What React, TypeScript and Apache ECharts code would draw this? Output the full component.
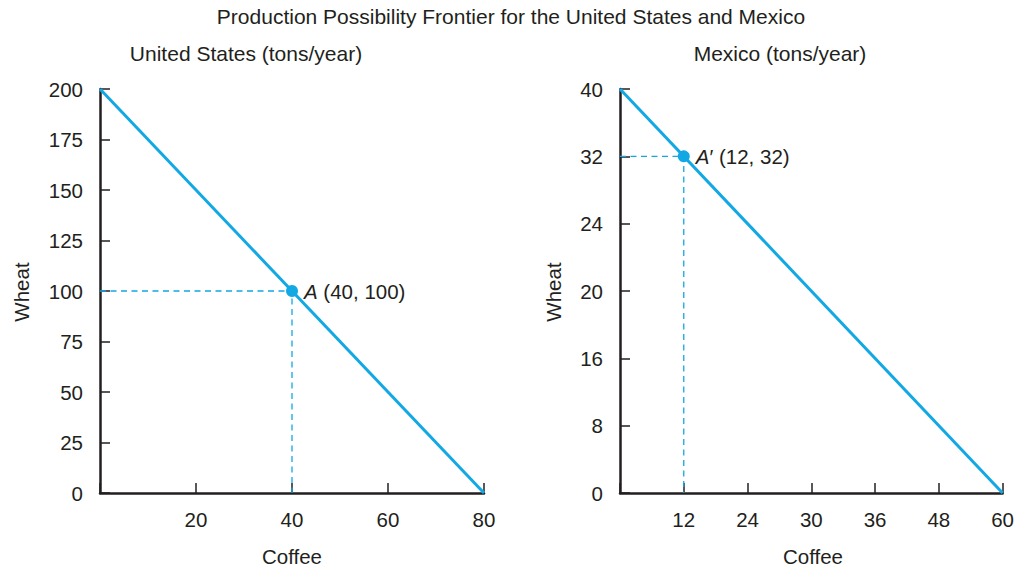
import React, { useEffect, useRef } from "react";
import * as echarts from "echarts";

// ---- Data ----
const mainTitle = "Production Possibility Frontier for the United States and Mexico";
const usTitle = "United States (tons/year)";
const mexTitle = "Mexico (tons/year)";
const xName = "Coffee";
const yName = "Wheat";

// United States (linear axes)
const usCoffeeMax = 80;
const usCoffeeStep = 20;
const usWheatMax = 200;
const usWheatStep = 25;
const usFrontier = [
  [0, 200],
  [80, 0],
];
const usPointA = [40, 100];
const usPointLabel = "(40, 100)";

// Mexico (tick labels are equally spaced in the original figure)
const mexCoffeeTicks = [0, 12, 24, 30, 36, 48, 60];
const mexWheatTicks = [0, 8, 16, 20, 24, 32, 40];
const mexFrontier = [
  [0, 40],
  [60, 0],
];
const mexPointA = [12, 32];
const mexPointLabel = "(12, 32)";

const BLUE = "#12a8e4";
const INK = "#231f20";
const FONT = "'Liberation Sans', Arial, Helvetica, sans-serif";

const toMex = (p: number[]) => [mexCoffeeTicks.indexOf(p[0]), mexWheatTicks.indexOf(p[1])];

export default function App() {
  const ref = useRef<HTMLDivElement>(null);

  useEffect(() => {
    document.body.style.margin = "0";
    if (!ref.current) return;
    const chart = echarts.init(ref.current, undefined, { renderer: "svg" });

    const axisCommon = {
      axisLine: { show: true, onZero: false, lineStyle: { color: INK, width: 2.5 } },
      axisTick: { show: true, inside: true, length: 10, lineStyle: { color: INK, width: 1.5 } },
      splitLine: { show: false },
    };
    const labelStyle = { color: INK, fontSize: 20.5, fontFamily: FONT };

    const usGuide = [
      [0, usPointA[1]],
      [usPointA[0], usPointA[1]],
      [usPointA[0], 0],
    ];
    const mexA = toMex(mexPointA);
    const mexGuide = [
      [0, mexA[1]],
      [mexA[0], mexA[1]],
      [mexA[0], 0],
    ];

    const richBase = { fontSize: 20.5, fontFamily: FONT, color: INK, textBorderWidth: 0, opacity: 1 };
    const pointLabel = (prime: boolean, txt: string) => ({
      show: true,
      position: "right" as const,
      distance: 6,
      formatter: prime ? `{i|A}{p|\u2032} {t|${txt}}` : `{i|A} {t|${txt}}`,
      color: INK,
      opacity: 1,
      textBorderWidth: 0,
      fontSize: 20.5,
      fontFamily: FONT,
      rich: {
        i: { ...richBase, fontStyle: "italic" },
        p: { ...richBase },
        t: { ...richBase },
      },
    });

    chart.setOption({
      animation: false,
      backgroundColor: "#ffffff",
      grid: [
        { left: 100, top: 89, width: 384, height: 404, containLabel: false },
        { left: 620, top: 89, width: 385, height: 404, containLabel: false },
      ],
      xAxis: [
        {
          type: "value",
          gridIndex: 0,
          min: 0,
          max: usCoffeeMax,
          interval: usCoffeeStep,
          ...axisCommon,
          axisLabel: {
            ...labelStyle,
            margin: 16,
            formatter: (v: number) => (v === 0 ? "" : String(v)),
          },
        },
        {
          type: "value",
          gridIndex: 1,
          min: 0,
          max: mexCoffeeTicks.length - 1,
          interval: 1,
          ...axisCommon,
          axisLabel: {
            ...labelStyle,
            margin: 16,
            formatter: (v: number) => (v === 0 ? "" : String(mexCoffeeTicks[v])),
          },
        },
      ],
      yAxis: [
        {
          type: "value",
          gridIndex: 0,
          min: 0,
          max: usWheatMax,
          interval: usWheatStep,
          ...axisCommon,
          axisLabel: { ...labelStyle, margin: 17 },
        },
        {
          type: "value",
          gridIndex: 1,
          min: 0,
          max: mexWheatTicks.length - 1,
          interval: 1,
          ...axisCommon,
          axisLabel: {
            ...labelStyle,
            margin: 17,
            formatter: (v: number) => String(mexWheatTicks[v]),
          },
        },
      ],
      graphic: [
        {
          type: "text",
          x: 511,
          y: 16,
          style: { text: mainTitle, fill: INK, font: `21px ${FONT}`, textAlign: "center", textVerticalAlign: "middle" },
        },
        {
          type: "text",
          x: 246,
          y: 53,
          style: { text: usTitle, fill: INK, font: `21px ${FONT}`, textAlign: "center", textVerticalAlign: "middle" },
        },
        {
          type: "text",
          x: 780,
          y: 53,
          style: { text: mexTitle, fill: INK, font: `21px ${FONT}`, textAlign: "center", textVerticalAlign: "middle" },
        },
        {
          type: "text",
          x: 292,
          y: 556,
          style: { text: xName, fill: INK, font: `20.5px ${FONT}`, textAlign: "center", textVerticalAlign: "middle" },
        },
        {
          type: "text",
          x: 813,
          y: 556,
          style: { text: xName, fill: INK, font: `20.5px ${FONT}`, textAlign: "center", textVerticalAlign: "middle" },
        },
        {
          type: "text",
          x: 21,
          y: 292,
          rotation: Math.PI / 2,
          style: { text: yName, fill: INK, font: `20.5px ${FONT}`, textAlign: "center", textVerticalAlign: "middle" },
        },
        {
          type: "text",
          x: 553,
          y: 292,
          rotation: Math.PI / 2,
          style: { text: yName, fill: INK, font: `20.5px ${FONT}`, textAlign: "center", textVerticalAlign: "middle" },
        },
      ],
      series: [
        {
          type: "line",
          xAxisIndex: 0,
          yAxisIndex: 0,
          data: usGuide,
          symbol: "none",
          lineStyle: { color: BLUE, width: 1.3, type: [6, 4.5] },
          z: 1,
        },
        {
          type: "line",
          xAxisIndex: 0,
          yAxisIndex: 0,
          data: usFrontier,
          symbol: "none",
          lineStyle: { color: BLUE, width: 3 },
          z: 2,
        },
        {
          type: "scatter",
          xAxisIndex: 0,
          yAxisIndex: 0,
          data: [usPointA],
          symbolSize: 12,
          itemStyle: { color: BLUE, opacity: 1 },
          label: pointLabel(false, usPointLabel),
          z: 3,
        },
        {
          type: "line",
          xAxisIndex: 1,
          yAxisIndex: 1,
          data: mexGuide,
          symbol: "none",
          lineStyle: { color: BLUE, width: 1.3, type: [6, 4.5] },
          z: 1,
        },
        {
          type: "line",
          xAxisIndex: 1,
          yAxisIndex: 1,
          data: mexFrontier.map(toMex),
          symbol: "none",
          lineStyle: { color: BLUE, width: 3 },
          z: 2,
        },
        {
          type: "scatter",
          xAxisIndex: 1,
          yAxisIndex: 1,
          data: [mexA],
          symbolSize: 12,
          itemStyle: { color: BLUE, opacity: 1 },
          label: pointLabel(true, mexPointLabel),
          z: 3,
        },
      ],
    });

    return () => chart.dispose();
  }, []);

  return <div ref={ref} style={{ width: 1017, height: 569 }} />;
}
